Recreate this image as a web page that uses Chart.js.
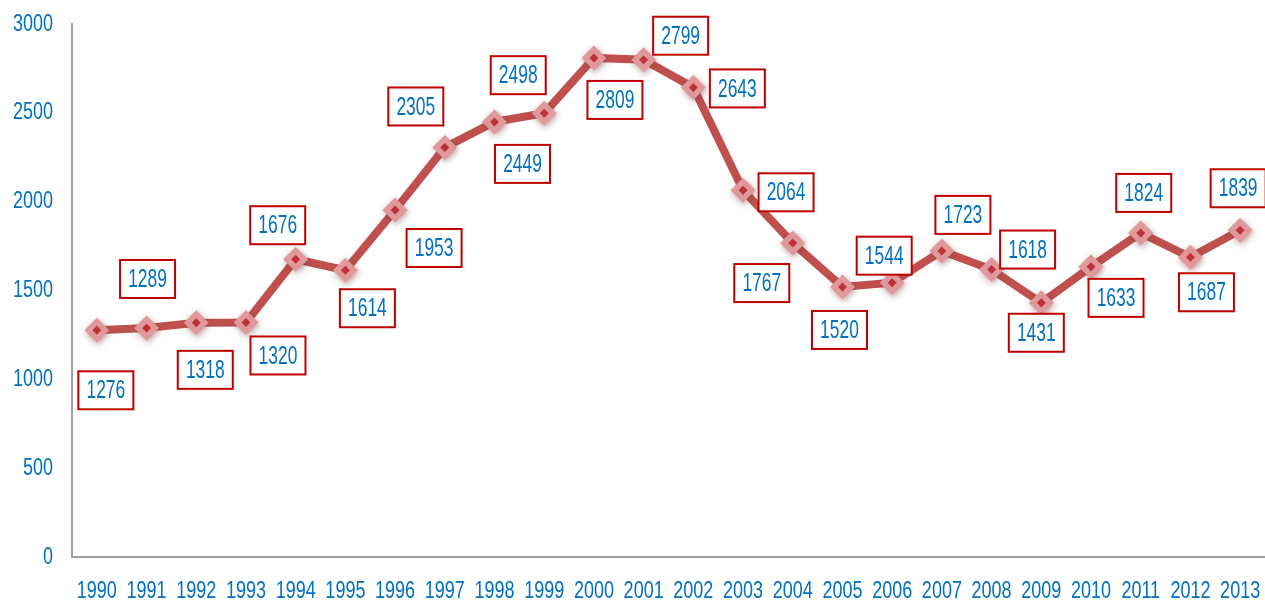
<!DOCTYPE html>
<html>
<head>
<meta charset="utf-8">
<script src="https://cdn.jsdelivr.net/npm/chart.js@4/dist/chart.umd.min.js"></script>
<style>
  html, body { margin: 0; padding: 0; background: #fff; }
  #wrap { width: 1265px; height: 604px; }
</style>
</head>
<body>
<div id="wrap"><canvas id="lineChart" width="1265" height="604"></canvas></div>
<script>
var years = ['1990', '1991', '1992', '1993', '1994', '1995', '1996', '1997', '1998', '1999', '2000', '2001',
             '2002', '2003', '2004', '2005', '2006', '2007', '2008', '2009', '2010', '2011', '2012', '2013'];
var values = [1276, 1289, 1318, 1320, 1676, 1614, 1953, 2305, 2449, 2498, 2809, 2799,
              2643, 2064, 1767, 1520, 1544, 1723, 1618, 1431, 1633, 1824, 1687, 1839];
var yMax = 3000;
var yStep = 500;

// where each value box sits relative to its point (px)
var labelOffsets = [[9, 60], [1, -49], [9, 47], [32, 33], [-18, -34], [22, 38], [39, 38], [-29, -41],
                    [28, 42], [-26, -38], [21, 42], [37, -24], [44, 1], [43, 2], [-31, 40], [-3, 43],
                    [-8, -27], [21, -36], [36, -20], [-5, 30], [25, 31], [3, -40], [16, 35], [-2, -42]];

var blue = '#0070C0';
var lineRed = '#C0504D';

// text is squeezed horizontally like in the original
function squeezedText(ctx, txt, x, y, size, sx, align) {
	ctx.save();
	ctx.translate(x, y);
	ctx.scale(sx, 1);
	ctx.font = size + 'px "Liberation Sans", Arial, sans-serif';
	ctx.fillStyle = blue;
	ctx.textAlign = align;
	ctx.textBaseline = 'middle';
	ctx.fillText(txt, 0, 0);
	ctx.restore();
}

// soft glow/shadow under the big markers only
var shadowPlugin = {
	id: 'shadow',
	beforeDatasetDraw: function(chart, args) {
		if (args.index !== 1) return;
		var ctx = chart.ctx;
		ctx.save();
		ctx.shadowColor = 'rgba(120,60,60,0.5)';
		ctx.shadowBlur = 6;
		ctx.shadowOffsetX = 1;
		ctx.shadowOffsetY = 2;
	},
	afterDatasetDraw: function(chart, args) {
		if (args.index !== 1) return;
		chart.ctx.restore();
	}
};

var textPlugin = {
	id: 'texts',
	afterDraw: function(chart) {
		var ctx = chart.ctx;
		var xs = chart.scales.x, ys = chart.scales.y;
		var area = chart.chartArea;

		// y ticks
		ys.ticks.forEach(function(t) {
			squeezedText(ctx, String(t.value), area.left - 19, ys.getPixelForValue(t.value), 24, 0.75, 'right');
		});
		// x ticks
		years.forEach(function(y, i) {
			squeezedText(ctx, y, xs.getPixelForValue(i), area.bottom + 34, 24, 0.75, 'center');
		});

		// value boxes
		var meta = chart.getDatasetMeta(2);
		meta.data.forEach(function(pt, i) {
			var cx = pt.x + labelOffsets[i][0];
			var cy = pt.y + labelOffsets[i][1];
			var w = 55, h = 38;
			ctx.save();
			ctx.fillStyle = '#fff';
			ctx.fillRect(cx - w / 2, cy - h / 2, w, h);
			ctx.strokeStyle = '#C00000';
			ctx.lineWidth = 2;
			ctx.strokeRect(cx - w / 2, cy - h / 2, w, h);
			ctx.restore();
			squeezedText(ctx, String(values[i]), cx, cy + 1, 26, 0.67, 'center');
		});
	}
};

var chartdata = {
	labels: years,
	datasets: [
		{
			// small dark diamond inside each marker
			data: values,
			showLine: false,
			pointStyle: 'rectRot',
			pointRadius: 4.5,
			pointBackgroundColor: '#C0303A',
			pointBorderWidth: 0,
			order: 0
		},
		{
			// big pink diamond
			data: values,
			showLine: false,
			pointStyle: 'rectRot',
			pointRadius: 12.5,
			pointBackgroundColor: '#E0989A',
			pointBorderWidth: 0,
			order: 1
		},
		{
			data: values,
			borderColor: lineRed,
			borderWidth: 8,
			tension: 0,
			pointRadius: 0,
			order: 2
		}
	]
};

var options = {
	responsive: false,
	animation: false,
	events: [],
	layout: { autoPadding: false, padding: { top: 24, left: 0, right: 0, bottom: 0 } },
	plugins: {
		legend: { display: false },
		tooltip: { enabled: false }
	},
	scales: {
		x: {
			offset: true,
			grid: { display: true, drawOnChartArea: false, drawTicks: false },
			border: { color: '#A0A0A0', width: 2 },
			ticks: { display: false },
			afterFit: function(scale) { scale.height = 47; }
		},
		y: {
			min: 0,
			max: yMax,
			grid: { display: true, drawOnChartArea: false, drawTicks: false },
			border: { color: '#A0A0A0', width: 2 },
			ticks: { display: false, stepSize: yStep },
			afterFit: function(scale) { scale.width = 72; }
		}
	}
};

var ctx = document.getElementById('lineChart');
var lineGraph = new Chart(ctx, {
	type: 'line',
	data: chartdata,
	options: options,
	plugins: [shadowPlugin, textPlugin]
});
</script>
</body>
</html>
